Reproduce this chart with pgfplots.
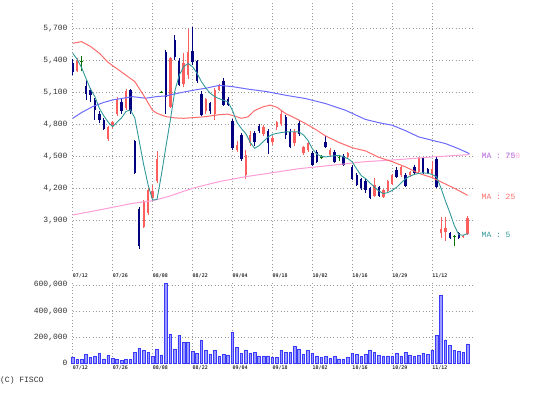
\documentclass[border=0pt]{standalone}
\usepackage{pgfplots}
\pgfplotsset{compat=1.18}
\usepackage{pgfplotstable}
\usepackage{fontspec}
\setmonofont{Liberation Mono}
\newfontfamily\datefont{DejaVu Sans Mono}
\definecolor{cBlue}{HTML}{000080}
\definecolor{cRed}{HTML}{FF5E5E}
\definecolor{cGreen}{HTML}{007000}
\definecolor{ma5}{HTML}{339999}
\definecolor{ma25}{HTML}{FF6B6B}
\definecolor{ma75}{HTML}{6B6BFF}
\definecolor{ma200}{HTML}{FF9CD6}
\definecolor{gridc}{HTML}{999999}
\definecolor{txt}{HTML}{333333}
\definecolor{volfill}{HTML}{9A9AFF}
\definecolor{voldraw}{HTML}{3A3AFF}

\pgfplotstableread{
i o h l c
0 5370 5410 5260 5290
3 5160 5220 5030 5080
4 5120 5140 5010 5070
5 5030 5045 4840 4930
6 4900 4920 4810 4840
7 4840 4860 4750 4760
11 5010 5040 4900 4920
13 5120 5130 4900 4920
14 4640 4650 4330 4340
15 4010 4020 3630 3660
21 5480 5500 4900 5060
23 5590 5640 5400 5430
24 5390 5420 5160 5170
27 5490 5710 5360 5380
28 5390 5400 5190 5210
29 5080 5110 4880 4890
31 5000 5010 4900 4920
34 5210 5230 4970 4980
35 5040 5060 4970 4980
36 4830 4850 4560 4580
38 4700 4720 4460 4470
41 4720 4740 4600 4630
42 4780 4800 4720 4740
44 4740 4760 4520 4620
48 4870 4890 4660 4700
49 4730 4760 4580 4590
51 4810 4840 4690 4710
54 4530 4550 4410 4420
55 4540 4560 4440 4450
57 4630 4690 4580 4590
59 4540 4560 4440 4450
61 4500 4520 4410 4420
63 4400 4420 4280 4290
64 4320 4340 4220 4230
65 4290 4300 4180 4200
66 4270 4290 4160 4180
67 4200 4210 4100 4110
69 4210 4220 4120 4130
73 4370 4400 4300 4310
75 4320 4340 4210 4220
77 4400 4420 4330 4340
79 4480 4490 4330 4340
80 4380 4390 4330 4340
82 4470 4490 4200 4210
85 3780 3790 3720 3730
87 3780 3790 3720 3730
}\blueC

\pgfplotstableread{
i o h l c
1 5300 5420 5290 5400
8 4660 4780 4640 4770
9 4780 4830 4760 4820
10 4900 5060 4880 5040
12 4950 5130 4930 5110
16 3840 4090 3830 4070
17 3970 4200 3950 4180
18 4110 4230 4090 4170
19 4270 4550 4250 4470
22 4960 5430 4950 5420
25 5180 5470 5150 5370
26 5260 5690 5220 5480
30 4920 5050 4900 5040
32 4900 5140 4840 5120
33 5120 5180 5110 5170
37 4560 4640 4540 4610
39 4320 4560 4290 4510
40 4620 4740 4600 4700
43 4710 4790 4690 4770
45 4630 4690 4610 4670
46 4770 4830 4750 4820
47 4800 4920 4780 4900
50 4620 4760 4600 4730
52 4530 4600 4510 4590
53 4560 4640 4540 4620
58 4510 4580 4500 4560
62 4490 4540 4470 4530
68 4130 4300 4120 4230
70 4120 4190 4110 4180
71 4170 4280 4160 4270
72 4240 4330 4230 4320
74 4320 4410 4310 4400
76 4320 4360 4310 4350
78 4350 4490 4340 4480
81 4330 4460 4310 4380
83 3780 3930 3730 3820
84 3790 3930 3710 3830
88 3740 3760 3730 3755
89 3770 3940 3760 3920
}\redC

\pgfplotstableread{
i o h l c
2 5390 5440 5300 5390
20 5100 5115 5090 5100
56 4490 4510 4470 4490
60 4490 4510 4460 4490
86 3750 3760 3660 3750
}\greenC

\pgfplotstableread{
i v
0 5466
1 5410
2 5330
3 5230
4 5130
5 5060
6 4950
7 4880
8 4820
9 4778
10 4820
11 4860
12 4920
13 4935
14 4860
15 4640
16 4420
17 4230
18 4090
19 4095
20 4330
21 4590
22 4840
23 5110
24 5260
25 5340
26 5370
27 5340
28 5280
29 5200
30 5140
31 5090
32 5060
33 5040
34 5025
35 5010
36 4930
37 4820
38 4760
39 4713
40 4630
41 4575
42 4600
43 4640
44 4680
45 4705
46 4715
47 4722
48 4728
49 4730
50 4730
51 4728
52 4700
53 4650
54 4570
55 4520
56 4500
57 4494
58 4500
59 4505
60 4509
61 4495
62 4478
63 4447
64 4380
65 4320
66 4290
67 4250
68 4210
69 4175
70 4150
71 4160
72 4180
73 4210
74 4250
75 4290
76 4315
77 4330
78 4340
79 4345
80 4340
81 4330
82 4306
83 4200
84 4080
85 3970
86 3850
87 3765
88 3760
89 3775
}\maFive

\pgfplotstableread{
i v
0 5559
2 5575
4 5530
6 5466
8 5380
10 5320
12 5260
14 5200
16 5070
18 4930
19 4903
21 4872
23 4860
25 4856
28 4865
30 4872
33 4890
35 4895
37 4870
38 4856
39.5 4870
41 4930
43 4965
44.5 4980
46 4960
48 4900
50 4860
52.5 4806
55 4745
57 4690
60 4630
63 4580
66 4550
69 4490
72 4450
75 4400
78 4340
81 4300
83 4260
86 4200
89 4134
}\maTwentyFive

\pgfplotstableread{
i v
0 4856
2 4910
4.5 4966
7 5005
9 5028
13.5 5059
16.5 5044
19 5060
21 5066
23 5085
25.5 5106
28 5125
30 5138
33 5165
36 5153
39.75 5128
43.5 5108
48 5072
52.5 5041
57 4994
61.5 4931
66 4845
69 4815
72 4791
75 4740
78 4681
81 4650
84 4619
87 4570
89.4 4525
}\maSeventyFive

\pgfplotstableread{
i v
0 3950
6 3997
13.5 4059
18 4084
21.5 4122
27 4200
33 4263
39 4309
44 4340
51 4384
58.5 4416
66 4450
73.5 4469
81 4494
89.4 4516
}\maTwoHundred

\pgfplotstableread{
i v
0 48500
1 30000
2 30000
3 69000
4 46000
5 56000
6 74000
7 33000
8 61000
9 38000
10 30000
11 25000
12 30000
13 30000
14 82000
15 115000
16 97000
17 82000
18 51000
19 107000
20 64000
21 613000
22 222000
23 107000
24 214000
25 158000
26 158000
27 89000
28 77000
29 179000
30 97000
31 71000
32 97000
33 56000
34 71000
35 64000
36 235000
37 120000
38 77000
39 102000
40 77000
41 82000
42 56000
43 56000
44 56000
45 48000
46 43000
47 97000
48 84000
49 84000
50 128000
51 107000
52 69000
53 97000
54 77000
55 56000
56 46000
57 51000
58 38000
59 51000
60 33000
61 33000
62 46000
63 77000
64 69000
65 51000
66 71000
67 102000
68 84000
69 61000
70 56000
71 56000
72 56000
73 77000
74 56000
75 84000
76 61000
77 51000
78 61000
79 77000
80 69000
81 102000
82 212000
83 518000
84 179000
85 140000
86 97000
87 92000
88 84000
89 148000
}\vol

\pgfplotsset{
  chartbase/.style={
    scale only axis, width=400.3pt, xmin=0, xmax=90.2,
    clip=false,
    axis line style={draw=none}, major tick length=0pt,
    xtick={0,9,...,81},
    xticklabels={07/12,07/26,08/08,08/22,09/04,09/18,10/02,10/16,10/29,11/12},
    grid=major,
    grid style={draw=gridc, line width=0.8pt, dash pattern=on 0.8pt off 2.5pt},
    xticklabel style={anchor=north west, inner sep=0pt, text=txt,
      font=\datefont\bfseries\fontsize{5}{6}\selectfont},
    yticklabel style={anchor=east, inner sep=0pt, xshift=-5pt, text=txt,
      font=\ttfamily\fontsize{8}{9}\selectfont},
    scaled y ticks=false,
  },
  wick/.style={draw=none, mark=none, forget plot,
    error bars/.cd, y dir=both, y explicit, error mark=none,
    error bar style={draw=#1, line width=0.8pt}},
}

\begin{document}
\begin{tikzpicture}
\path[use as bounding box] (0pt,0pt) rectangle (537pt,396pt);

\begin{axis}[chartbase,
  at={(72.7pt,125pt)}, anchor=south west, height=268pt,
  ymin=3424.7, ymax=5937,
  ytick={3900,4200,4500,4800,5100,5400,5700},
  yticklabels={{3,900},{4,200},{4,500},{4,800},{5,100},{5,400},{5,700}},
  xticklabel style={yshift=-3pt},
]
% wicks
\addplot[wick=cBlue] table[x=i, y=c, y error plus expr=\thisrow{h}-\thisrow{c}, y error minus expr=\thisrow{c}-\thisrow{l}] {\blueC};
\addplot[wick=cRed] table[x=i, y=c, y error plus expr=\thisrow{h}-\thisrow{c}, y error minus expr=\thisrow{c}-\thisrow{l}] {\redC};
\addplot[wick=cGreen] table[x=i, y=c, y error plus expr=\thisrow{h}-\thisrow{c}, y error minus expr=\thisrow{c}-\thisrow{l}] {\greenC};
% bodies
\addplot[draw=none, mark=none, forget plot, error bars/.cd, y dir=minus, y explicit, error mark=none,
  error bar style={draw=cBlue, line width=2.4pt}]
  table[x=i, y=o, y error minus expr=\thisrow{o}-\thisrow{c}] {\blueC};
\addplot[draw=none, mark=none, forget plot, error bars/.cd, y dir=plus, y explicit, error mark=none,
  error bar style={draw=cRed, line width=2.4pt}]
  table[x=i, y=o, y error plus expr=\thisrow{c}-\thisrow{o}] {\redC};
\addplot[only marks, mark=-, mark size=1.4pt, mark options={draw=cGreen, line width=1pt}, forget plot]
  table[x=i, y=c] {\greenC};
% moving averages
\addplot[ma200, line width=1pt, mark=none] table[x=i, y=v] {\maTwoHundred};
\addplot[ma75, line width=1pt, mark=none] table[x=i, y=v] {\maSeventyFive};
\addplot[ma25, line width=1pt, mark=none] table[x=i, y=v] {\maTwentyFive};
\addplot[ma5, line width=0.9pt, mark=none] table[x=i, y=v] {\maFive};
\end{axis}

\begin{axis}[chartbase,
  at={(72.7pt,32.7pt)}, anchor=south west, height=81.6pt,
  ymin=0, ymax=625000,
  ytick={200000,400000,600000},
  yticklabels={{200,000},{400,000},{600,000}},
  extra y ticks={0}, extra y tick labels={0},
  extra y tick style={grid=none},
  xticklabel style={yshift=-2pt},
]
\addplot[ybar, bar width=2.6pt, fill=volfill, draw=voldraw, line width=0.6pt] table[x=i, y=v] {\vol};
\end{axis}

\begin{scope}[every node/.style={anchor=west, inner sep=0pt, font=\ttfamily\fontsize{8}{9}\selectfont}]
\node[text=ma75] at (481.5pt,240pt) {MA : 75};
\node[text=ma200, opacity=0.85] at (481.5pt,240pt) {MA : 200};
\node[text=ma25] at (481.5pt,199.3pt) {MA : 25};
\node[text=ma5] at (481.5pt,161pt) {MA : 5};
\node[text=txt] at (0pt,16pt) {(C) FISCO};
\end{scope}
\end{tikzpicture}
\end{document}
